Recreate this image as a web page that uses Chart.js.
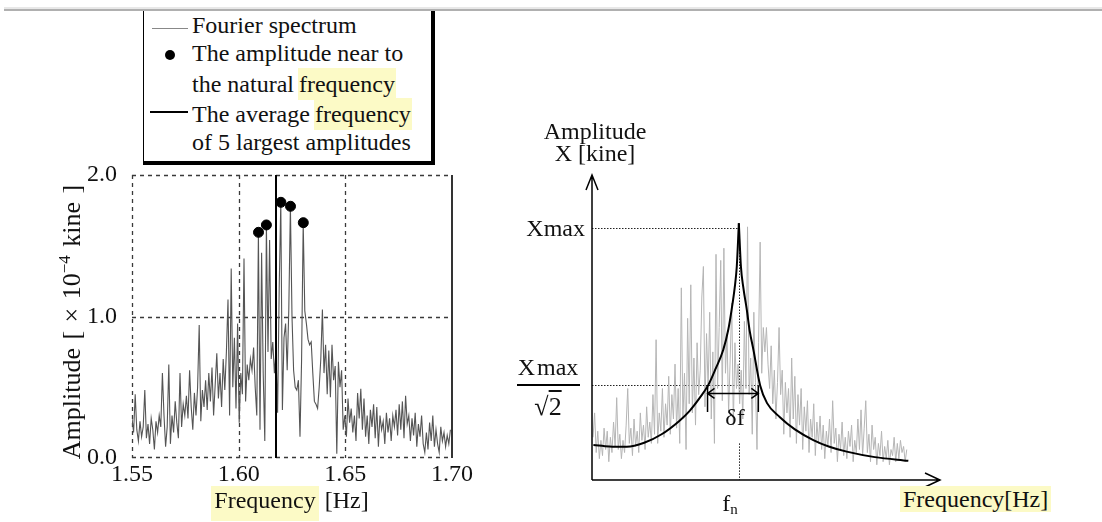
<!DOCTYPE html>
<html><head><meta charset="utf-8">
<script src="https://cdn.jsdelivr.net/npm/chart.js@4.4.1/dist/chart.umd.min.js"></script>
<style>
html,body{margin:0;padding:0;background:#fff;overflow:hidden;}
#wrap{position:relative;width:1102px;height:522px;overflow:hidden;font-family:"Liberation Serif","Times New Roman",serif;color:#111;}
.t{position:absolute;font-size:24px;line-height:24px;white-space:nowrap;}
.hl{background:#fcfac6;}
canvas{position:absolute;}
</style></head><body>
<div id="wrap">
  <div style="position:absolute;left:4px;right:0;top:7px;height:2px;background:#e8e8e8"></div>
  <div style="position:absolute;left:4px;right:0;top:9px;height:2px;background:#b0b0b0"></div>

  <canvas id="c1" width="480" height="522" style="left:0;top:0"></canvas>
  <canvas id="c2" width="622" height="522" style="left:480px;top:0"></canvas>

  <!-- legend box -->
  <div style="position:absolute;left:143px;top:11px;width:287px;height:150px;background:#fff;border-left:1px solid #000;border-right:4px solid #000;border-bottom:4px solid #000"></div>
  <div style="position:absolute;left:152px;top:28px;width:36px;height:1px;background:#888"></div>
  <div style="position:absolute;left:165px;top:50px;width:10px;height:10px;border-radius:50%;background:#000"></div>
  <div style="position:absolute;left:150px;top:111px;width:38px;height:2px;background:#000"></div>
  <div class="t" style="left:192px;top:13px">Fourier spectrum</div>
  <div class="t" style="left:192px;top:41px">The amplitude near to</div>
  <div class="t" style="left:192px;top:72px">the natural <span class="hl" style="padding:3px 1px;margin-left:-2px">frequency</span></div>
  <div class="t" style="left:192px;top:102px">The average <span class="hl" style="padding:3px 1px;margin-left:-2px">frequency</span></div>
  <div class="t" style="left:192px;top:130px">of 5 largest amplitudes</div>

  <!-- left axis titles -->
  <div class="t" style="left:-108px;top:310px;width:360px;text-align:center;font-size:26px;transform:rotate(-90deg);word-spacing:2px">Amplitude [ × 10<sup style="font-size:17px;vertical-align:10px;line-height:0">−4</sup> kine ]</div>
  <div class="t" style="left:190px;width:200px;text-align:center;top:488px"><span class="hl" style="padding:1px 3px 8px">Frequency</span> [Hz]</div>

  <!-- right diagram texts -->
  <div class="t" style="left:495px;width:200px;text-align:center;top:119px">Amplitude</div>
  <div class="t" style="left:495px;width:200px;text-align:center;top:141px">X [kine]</div>
  <div class="t" style="right:517px;top:216px">Xmax</div>
  <div class="t" style="left:498px;width:100px;text-align:center;top:355px">X<span style="margin-left:2px">max</span></div>
  <div style="position:absolute;left:517px;top:384px;width:63px;height:1.5px;background:#000"></div>
  <div class="t" style="left:498px;width:100px;text-align:center;top:395px;font-size:26px">√<span style="text-decoration:overline">2</span></div>
  <div class="t" style="left:700px;width:70px;text-align:center;top:405px">δf</div>
  <div class="t" style="left:700px;width:60px;text-align:center;top:491px">f<sub style="font-size:15px;vertical-align:-3px;line-height:0">n</sub></div>
  <div class="t" style="left:900px;top:487px"><span class="hl" style="padding:0 3px">Frequency[Hz]</span></div>
</div>
<script>
// ---------- left chart data ----------
const specStart = 1.55;
const specStep = 0.00075;
const spectrumAmp = [
 0.28,0.18,0.45,0.20,0.12,0.26,0.15,0.22,0.48,0.14,
 0.24,0.10,0.28,0.20,0.06,0.26,0.18,0.30,0.22,0.60,
 0.30,0.08,0.22,0.66,0.10,0.30,0.18,0.40,0.25,0.14,
 0.60,0.22,0.38,0.30,0.44,0.28,0.62,0.36,0.20,0.46,
 0.30,0.50,0.94,0.26,0.48,0.36,0.55,0.34,0.60,0.40,
 0.64,0.30,0.52,0.74,0.42,0.60,0.36,0.70,
 0.48,0.75,1.12,0.30,1.34,0.50,0.85,0.35,0.95,0.25,0.60,0.45,1.41,0.40,0.66,
 0.55,0.70,0.62,0.78,0.50,0.30,1.595,0.20,1.45,0.60,0.12,1.647,0.75,1.54,0.70,0.82,0.60,0.75,
 0.32,1.20,1.807,0.34,0.85,0.95,0.62,1.05,1.779,1.00,0.62,0.50,0.48,0.55,0.15,0.70,1.663,1.04,0.95,0.84,
 0.80,0.82,0.60,0.40,0.38,0.35,0.50,0.70,1.05,0.60,0.80,0.45,0.76,0.43,0.80,0.55,0.65,0.03,0.68,0.50,0.62,0.20,0.30,0.15,
 0.42,0.25,0.35,0.18,0.30,0.12,0.46,0.28,0.49,0.20,0.42,0.15,0.30,0.10,0.34,0.22,0.38,0.14,0.36,0.08,
 0.30,0.20,0.26,0.10,0.32,0.18,0.28,0.12,0.30,0.22,0.34,0.16,0.38,0.20,0.40,0.14,0.44,0.24,0.30,0.12,
 0.28,0.16,0.32,0.08,0.24,0.15,0.30,0.10,0.04,0.18,0.06,0.25,0.12,0.30,0.08,0.20,0.10,0.04,0.22,0.12,
 0.18,0.08,0.16,0.10,0.20
];
const peakFreq = [1.6093, 1.6130, 1.6198, 1.6243, 1.6303];
const peakAmp  = [1.595, 1.647, 1.807, 1.779, 1.663];
const avgFreq = 1.6175;
const xTicks = [1.55, 1.60, 1.65, 1.70];
const yTicks = [0.0, 1.0, 2.0];
const gridX = [1.60, 1.65];
const gridY = [1.0];

// ---------- right diagram data ----------
const demoStart = 0.3;
const demoStep = 0.453;
const demoSpectrum = [
 14,22,9,16,7,13,8,17,10,16, 6,14,9,19,11,27,10,15,7,13,
 9,18,30,12,17,8,20,11,16,9, 22,13,18,10,24,14,19,12,28,15,
 46,12,22,16,30,14,25,18,34,15, 28,20,38,17,30,12,63,20,35,10,
 53,25,64,22,40,18,45,28,36,60, 70,24,48,30,55,20,42,12,74,30,
 50,72,26,76,35,48,22,40,58,18, 45,30,38,25,36,20,52,30,83,28,
 40,15,55,32,10,45,78,35,50,42, 50,38,30,44,25,36,20,32,50,28,
 36,15,32,22,30,14,40,20,34,12, 28,18,30,10,24,16,26,9,20,14,
 25,8,19,12,21,10,18,7,16,11, 20,9,26,12,17,6,15,10,19,8,
 14,7,16,11,18,6,13,9,20,10, 23,8,17,26,9,15,6,18,10,14,
 5,12,8,16,6,11,7,13,5,10, 8,14,6,12,7,13,9,11,6,10
];
const curveLeftX  = [0.4, 5.0, 10.0, 15.0, 20.0, 25.0, 28.0, 31.0, 33.4, 35.6, 37.7, 39.2, 40.1, 41.0, 41.6, 42.2];
const curveLeftY  = [11.5, 11.0, 10.9, 12.2, 15.0, 19.3, 22.6, 27.0, 31.1, 36.7, 42.6, 49.5, 55.7, 63.0, 69.9, 84.2];
const curveRightX = [42.2, 42.8, 43.5, 44.5, 45.3, 46.4, 48.3, 50.3, 54.0, 58.3, 63.6, 68.0, 73.2, 81.3, 90.9];
const curveRightY = [84.2, 69.9, 63.0, 55.7, 49.0, 42.6, 31.1, 25.2, 20.6, 16.6, 13.1, 11.0, 9.3, 7.5, 6.3];
const xmaxLevel = 82.5;
const halfLevel = 31.1;
const fnX = 42.2;
const dfLeft = 33.2, dfRight = 47.8;
const dfArrowLevel = 28.4;
const dfBarBottom = 22.3;

const FONT = 'Liberation Serif';

// ---------- left chart ----------
const leftFrame = {
  id: 'leftFrame',
  beforeDatasetsDraw(chart) {
    const {ctx, chartArea: a, scales: {x, y}} = chart;
    ctx.save();
    ctx.strokeStyle = '#3a3a3a';
    ctx.lineWidth = 1.3;
    ctx.setLineDash([4, 4]);
    ctx.beginPath();
    gridX.forEach(v => { const p = Math.round(x.getPixelForValue(v)) + 0.5; ctx.moveTo(p, a.top); ctx.lineTo(p, a.bottom); });
    gridY.forEach(v => { const p = Math.round(y.getPixelForValue(v)) + 0.5; ctx.moveTo(a.left, p); ctx.lineTo(a.right, p); });
    ctx.moveTo(a.left, a.top + 0.5); ctx.lineTo(a.right, a.top + 0.5);
    ctx.moveTo(a.left + 0.5, a.top); ctx.lineTo(a.left + 0.5, a.bottom);
    ctx.moveTo(a.left, a.bottom - 0.5); ctx.lineTo(a.right, a.bottom - 0.5);
    ctx.stroke();
    ctx.setLineDash([]);
    ctx.strokeStyle = '#000';
    ctx.lineWidth = 1.6;
    ctx.beginPath();
    ctx.moveTo(a.right, a.top); ctx.lineTo(a.right, a.bottom);
    ctx.stroke();
    ctx.restore();
  }
};

new Chart(document.getElementById('c1'), {
  type: 'line',
  data: {
    datasets: [
      { label: 'Fourier spectrum', data: spectrumAmp.map((a, i) => ({x: specStart + i * specStep, y: a})),
        borderColor: '#555', borderWidth: 1.1, pointRadius: 0, tension: 0, order: 3 },
      { label: 'The average frequency of 5 largest amplitudes', data: [{x: avgFreq, y: 0}, {x: avgFreq, y: 2}],
        borderColor: '#000', borderWidth: 2, pointRadius: 0, order: 2 },
      { type: 'scatter', label: 'The amplitude near to the natural frequency',
        data: peakFreq.map((f, i) => ({x: f, y: peakAmp[i]})),
        pointRadius: 5, backgroundColor: '#000', borderColor: '#000', showLine: false, order: 1, clip: false }
    ]
  },
  options: {
    responsive: false, devicePixelRatio: 1, animation: false,
    layout: { padding: { top: 175, right: 28, left: 0, bottom: 0 } },
    plugins: { legend: { display: false }, tooltip: { enabled: false } },
    scales: {
      x: { type: 'linear', min: 1.55, max: 1.70,
        afterBuildTicks: s => { s.ticks = xTicks.map(v => ({value: v})); },
        ticks: { callback: v => Number(v).toFixed(2), font: {family: FONT, size: 24}, color: '#111', padding: 2, maxRotation: 0, autoSkip: false },
        grid: { display: false, drawTicks: false }, border: { display: false },
        afterFit: s => { s.height = 64; } },
      y: { type: 'linear', min: 0, max: 2,
        afterBuildTicks: s => { s.ticks = yTicks.map(v => ({value: v})); },
        ticks: { callback: v => Number(v).toFixed(1), font: {family: FONT, size: 24}, color: '#111', padding: 15 },
        grid: { display: false, drawTicks: false }, border: { display: false },
        afterFit: s => { s.width = 132; } }
    }
  },
  plugins: [leftFrame]
});

// ---------- right diagram ----------
const rightDeco = {
  id: 'rightDeco',
  beforeDatasetsDraw(chart) {
    const {ctx, chartArea: a, scales: {x, y}} = chart;
    ctx.save();
    ctx.strokeStyle = '#222';
    ctx.lineWidth = 1;
    ctx.setLineDash([1.5, 1.5]);
    ctx.beginPath();
    const yMax = Math.round(y.getPixelForValue(xmaxLevel)) + 0.5;
    ctx.moveTo(a.left, yMax); ctx.lineTo(x.getPixelForValue(fnX), yMax);
    const yHalf = Math.round(y.getPixelForValue(halfLevel)) + 0.5;
    ctx.moveTo(a.left, yHalf); ctx.lineTo(x.getPixelForValue(dfRight), yHalf);
    const xf = Math.round(x.getPixelForValue(fnX)) + 0.5;
    ctx.moveTo(xf, yMax); ctx.lineTo(xf, y.getPixelForValue(dfArrowLevel));
    ctx.moveTo(xf, y.getPixelForValue(12)); ctx.lineTo(xf, a.bottom);
    ctx.stroke();
    ctx.restore();
  },
  afterDatasetsDraw(chart) {
    const {ctx, chartArea: a, scales: {x, y}} = chart;
    ctx.save();
    ctx.strokeStyle = '#000';
    ctx.lineWidth = 1.5;
    ctx.beginPath();
    ctx.moveTo(a.left, a.bottom); ctx.lineTo(a.left, a.top);
    ctx.moveTo(a.left - 6, a.top + 15); ctx.lineTo(a.left, a.top); ctx.lineTo(a.left + 6, a.top + 15);
    ctx.moveTo(a.left, a.bottom); ctx.lineTo(a.right, a.bottom);
    ctx.moveTo(a.right - 15, a.bottom - 7); ctx.lineTo(a.right, a.bottom); ctx.lineTo(a.right - 15, a.bottom + 7);
    const xl = x.getPixelForValue(dfLeft), xr = x.getPixelForValue(dfRight);
    const ya = y.getPixelForValue(dfArrowLevel);
    ctx.moveTo(xl, ya); ctx.lineTo(xr, ya);
    ctx.moveTo(xl + 7, ya - 5); ctx.lineTo(xl, ya); ctx.lineTo(xl + 7, ya + 5);
    ctx.moveTo(xr - 7, ya - 5); ctx.lineTo(xr, ya); ctx.lineTo(xr - 7, ya + 5);
    ctx.moveTo(xl, y.getPixelForValue(halfLevel)); ctx.lineTo(xl, y.getPixelForValue(dfBarBottom));
    ctx.moveTo(xr, y.getPixelForValue(halfLevel)); ctx.lineTo(xr, y.getPixelForValue(dfBarBottom));
    ctx.stroke();
    ctx.restore();
  }
};

new Chart(document.getElementById('c2'), {
  type: 'line',
  data: {
    datasets: [
      { label: 'resonance left', data: curveLeftX.map((v, i) => ({x: v, y: curveLeftY[i]})),
        borderColor: '#000', borderWidth: 2, pointRadius: 0, cubicInterpolationMode: 'monotone', order: 1 },
      { label: 'resonance right', data: curveRightX.map((v, i) => ({x: v, y: curveRightY[i]})),
        borderColor: '#000', borderWidth: 2, pointRadius: 0, cubicInterpolationMode: 'monotone', order: 1 },
      { label: 'spectrum', data: demoSpectrum.map((v, i) => ({x: demoStart + i * demoStep, y: v})),
        borderColor: '#b5b5b5', borderWidth: 1, pointRadius: 0, tension: 0, order: 5 }
    ]
  },
  options: {
    responsive: false, devicePixelRatio: 1, animation: false,
    layout: { padding: { left: 112, right: 162, top: 175, bottom: 42 } },
    plugins: { legend: { display: false }, tooltip: { enabled: false } },
    scales: {
      x: { type: 'linear', display: false, min: 0, max: 100 },
      y: { type: 'linear', display: false, min: 0, max: 100 }
    }
  },
  plugins: [rightDeco]
});
</script>
</body></html>
